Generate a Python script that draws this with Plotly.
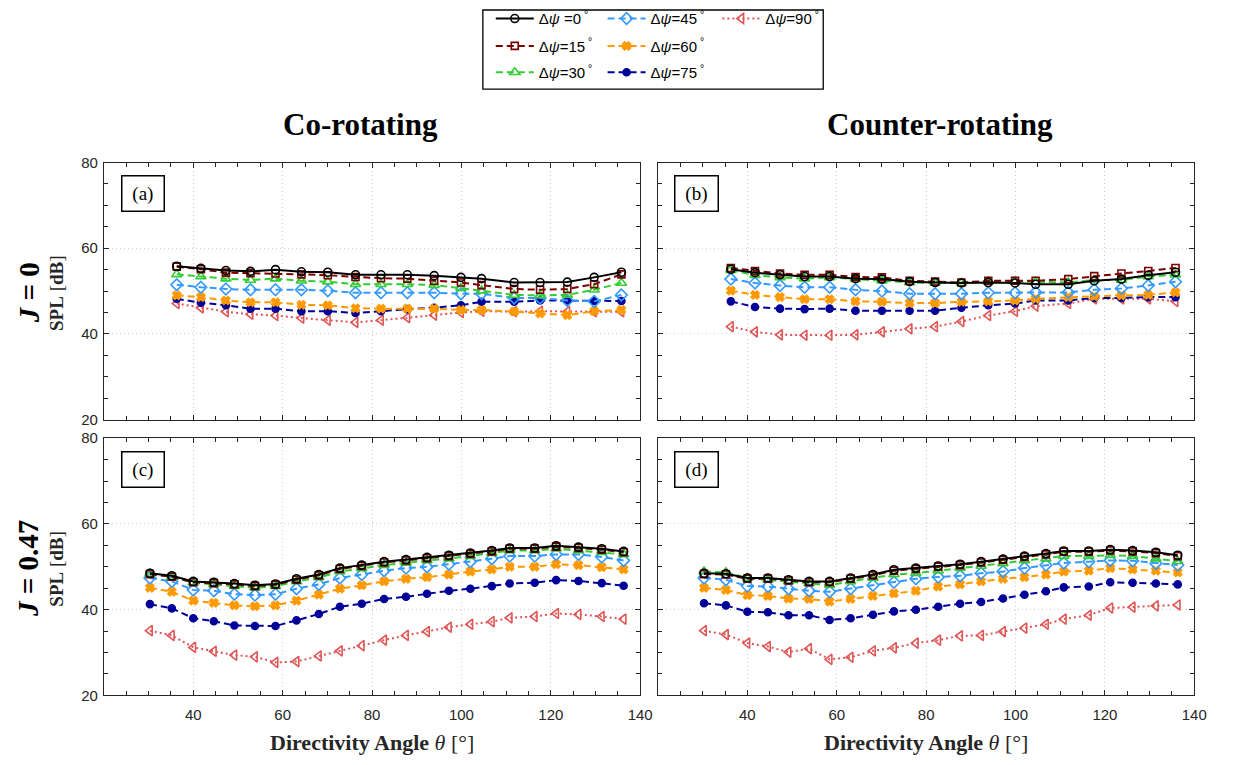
import plotly.graph_objects as go

# ---------------- data ----------------
theta_top = [36.3, 41.7, 47.3, 52.8, 58.4, 64.2, 70.1, 76.3, 82.0, 87.9, 93.9, 99.9,
             104.5, 111.8, 117.6, 123.7, 129.7, 135.8]
theta_bot = [30.3, 35.2, 40.0, 44.6, 49.2, 53.8, 58.4, 63.1, 68.1, 72.8, 77.7, 82.7,
             87.6, 92.3, 97.2, 102.0, 106.8, 110.8, 116.4, 121.2, 126.2, 131.4, 136.3]

series_names = ["0", "15", "30", "45", "60", "75", "90"]

# (a) J = 0, co-rotating
a_0 = [55.8, 55.3, 54.8, 54.6, 55.0, 54.5, 54.4, 53.8, 53.8, 53.8, 53.6, 53.2, 52.9, 52.0, 52.0, 52.1, 53.2, 54.4]
a_15 = [55.7, 55.1, 54.3, 54.2, 54.1, 53.9, 53.7, 53.3, 53.0, 52.9, 52.4, 52.0, 51.4, 50.5, 50.3, 50.5, 51.6, 53.9]
a_30 = [53.9, 53.4, 52.9, 52.6, 52.9, 52.4, 52.2, 51.6, 51.6, 51.6, 51.4, 50.7, 50.1, 49.1, 49.0, 49.1, 50.3, 51.9]
a_45 = [51.5, 50.9, 50.5, 50.3, 50.3, 50.3, 50.1, 49.6, 49.6, 49.6, 49.6, 49.4, 49.4, 48.4, 48.4, 47.8, 47.6, 49.1]
a_60 = [49.0, 48.6, 47.8, 47.4, 47.4, 46.8, 46.7, 46.0, 45.9, 45.9, 45.9, 45.6, 45.6, 45.2, 44.8, 44.4, 45.3, 45.6]
a_75 = [48.2, 47.3, 46.7, 45.9, 45.9, 45.3, 45.3, 44.9, 45.3, 45.8, 46.1, 46.7, 47.5, 47.5, 47.8, 47.8, 47.7, 47.7]
a_90 = [47.1, 46.1, 45.2, 44.6, 44.3, 43.7, 43.2, 42.7, 43.2, 43.8, 44.4, 45.0, 45.3, 45.2, 45.3, 45.2, 45.2, 45.2]

# (b) J = 0, counter-rotating
b_0 = [55.1, 54.3, 53.8, 53.4, 53.4, 52.9, 52.8, 52.2, 52.0, 51.9, 52.0, 51.9, 51.6, 51.6, 52.4, 52.8, 53.7, 54.4]
b_15 = [55.4, 54.7, 54.1, 53.8, 53.8, 53.3, 53.2, 52.4, 52.2, 52.0, 52.4, 52.4, 52.4, 52.8, 53.5, 54.1, 54.7, 55.4]
b_30 = [54.9, 53.7, 53.2, 52.9, 53.2, 52.8, 52.4, 52.0, 51.9, 51.9, 52.2, 52.2, 52.2, 52.0, 52.6, 52.6, 53.4, 53.8]
b_45 = [52.8, 51.9, 51.3, 50.9, 50.9, 50.3, 50.0, 49.4, 49.4, 49.4, 49.6, 49.6, 49.7, 49.7, 50.3, 50.6, 51.3, 52.2]
b_60 = [50.1, 49.1, 48.6, 48.1, 48.1, 47.6, 47.5, 47.2, 47.2, 47.5, 47.6, 47.8, 48.2, 48.6, 48.8, 49.0, 49.1, 49.7]
b_75 = [47.6, 46.3, 45.9, 45.8, 45.9, 45.4, 45.4, 45.4, 45.4, 46.1, 46.7, 47.1, 47.8, 47.8, 48.4, 48.4, 48.6, 48.6]
b_90 = [41.7, 40.5, 39.8, 39.7, 39.7, 39.8, 40.5, 41.2, 41.7, 42.9, 44.3, 45.3, 46.5, 47.1, 48.2, 48.2, 48.2, 47.6]

# (c) J = 0.47, co-rotating
c_0 = [48.5, 47.9, 46.6, 46.4, 46.1, 45.7, 46.0, 47.2, 48.2, 49.7, 50.4, 51.2, 51.7, 52.2, 52.7, 53.2, 53.8, 54.4, 54.4, 54.9, 54.6, 54.2, 53.6]
c_15 = [48.3, 47.7, 46.4, 46.2, 45.9, 45.5, 45.8, 47.0, 48.0, 49.5, 50.2, 51.0, 51.5, 52.0, 52.5, 53.0, 53.6, 54.2, 54.2, 54.7, 54.4, 54.0, 53.4]
c_30 = [48.4, 47.6, 46.3, 45.9, 45.5, 45.1, 45.5, 46.6, 47.5, 48.9, 49.6, 50.4, 50.9, 51.5, 51.9, 52.5, 53.2, 53.8, 53.8, 54.2, 53.8, 53.4, 52.9]
c_45 = [47.4, 46.6, 44.6, 44.4, 43.6, 43.4, 43.6, 44.9, 45.9, 47.4, 48.2, 49.1, 49.7, 50.0, 50.6, 51.2, 51.9, 52.5, 52.5, 52.9, 52.9, 52.3, 51.5]
c_60 = [45.1, 44.2, 42.1, 41.6, 41.0, 40.8, 41.0, 42.1, 43.5, 44.9, 45.7, 46.6, 47.2, 47.6, 48.2, 48.9, 49.4, 50.0, 50.0, 50.6, 50.4, 49.9, 49.4]
c_75 = [41.3, 40.3, 38.0, 37.3, 36.3, 36.2, 36.2, 37.5, 39.0, 40.7, 41.4, 42.5, 43.0, 43.7, 44.4, 44.9, 45.5, 46.1, 46.3, 46.9, 46.7, 46.2, 45.6]
c_90 = [35.1, 34.0, 31.2, 30.3, 29.4, 29.0, 27.7, 27.9, 29.2, 30.4, 31.6, 32.9, 34.0, 34.9, 35.9, 36.6, 37.2, 38.1, 38.4, 39.1, 38.9, 38.4, 37.8]

# (d) J = 0.47, counter-rotating
d_0 = [48.5, 48.4, 47.4, 47.4, 47.0, 46.6, 46.6, 47.4, 48.2, 49.3, 49.7, 50.2, 50.6, 51.2, 51.8, 52.5, 53.1, 53.7, 53.7, 54.0, 53.8, 53.4, 52.7]
d_15 = [48.3, 48.2, 47.2, 47.2, 46.8, 46.4, 46.4, 47.2, 48.0, 49.1, 49.5, 50.0, 50.4, 51.0, 51.6, 52.3, 52.9, 53.5, 53.5, 53.8, 53.6, 53.2, 52.5]
d_30 = [48.9, 48.7, 47.4, 47.0, 46.6, 46.1, 45.7, 46.6, 47.4, 48.2, 48.5, 49.1, 49.7, 50.2, 50.8, 51.5, 51.9, 52.5, 52.5, 52.7, 52.5, 51.9, 51.3]
d_45 = [47.4, 47.0, 45.5, 45.4, 44.9, 44.4, 44.2, 44.9, 45.7, 46.4, 47.2, 47.6, 47.9, 48.5, 48.9, 49.7, 50.4, 50.9, 51.2, 51.5, 51.4, 50.8, 50.4]
d_60 = [45.1, 44.6, 43.4, 43.2, 42.6, 42.5, 41.9, 42.5, 43.2, 43.8, 44.4, 45.4, 45.9, 46.6, 47.2, 47.6, 48.2, 48.9, 49.1, 49.7, 49.4, 49.1, 48.7]
d_75 = [41.5, 41.0, 39.5, 39.4, 38.7, 38.7, 37.6, 38.0, 38.8, 39.6, 40.0, 40.7, 41.4, 41.8, 42.6, 43.5, 44.3, 45.2, 45.4, 46.4, 46.3, 46.1, 45.9]
d_90 = [35.1, 34.2, 32.2, 31.4, 30.1, 30.9, 28.4, 28.9, 30.4, 31.1, 32.2, 32.9, 33.9, 34.0, 34.9, 35.7, 36.6, 37.8, 38.7, 40.4, 40.6, 40.9, 41.1]

x_ticks = [40, 60, 80, 100, 120, 140]
y_ticks = [20, 40, 60, 80]
panel_labels = ["(a)", "(b)", "(c)", "(d)"]
col_titles = ["Co-rotating", "Counter-rotating"]
row_titles = ["<b><i>J</i> = 0</b>", "<b><i>J</i> = 0.47</b>"]

# ---------------- styles ----------------
styles = {
    "0":  dict(color="#000000", dash="solid",   symbol="circle-open",        size=8),
    "15": dict(color="#7a0000", dash="7px,4px", symbol="square-open",        size=7),
    "30": dict(color="#33cc33", dash="7px,4px", symbol="triangle-up-open",   size=9),
    "45": dict(color="#3399ff", dash="7px,4px", symbol="diamond-open",       size=9),
    "60": dict(color="#ff9900", dash="7px,4px", symbol="x",                  size=7),
    "75": dict(color="#000099", dash="7px,4px", symbol="circle",             size=7),
    "90": dict(color="#e05555", dash="2px,3px", symbol="triangle-left-open", size=9),
}

panels = [
    ("x", "y", theta_top, [a_0, a_15, a_30, a_45, a_60, a_75, a_90]),
    ("x2", "y2", theta_top, [b_0, b_15, b_30, b_45, b_60, b_75, b_90]),
    ("x3", "y3", theta_bot, [c_0, c_15, c_30, c_45, c_60, c_75, c_90]),
    ("x4", "y4", theta_bot, [d_0, d_15, d_30, d_45, d_60, d_75, d_90]),
]

legend_ids = {"0": "legend", "45": "legend2", "90": "legend3",
              "15": "legend4", "60": "legend5", "30": "legend6", "75": "legend7"}

fig = go.Figure()
for pi, (xa, ya, th, vals) in enumerate(panels):
    for k in reversed(range(len(series_names))):
        nm = series_names[k]
        st = styles[nm]
        label = ("\u0394<i>\u03c8</i> =0<sup> \u00b0</sup>" if nm == "0"
                 else "\u0394<i>\u03c8</i>=" + nm + "<sup> \u00b0</sup>")
        fig.add_trace(go.Scatter(
            x=th, y=vals[k], xaxis=xa, yaxis=ya, mode="lines+markers",
            name=label, showlegend=(pi == 0), legend=legend_ids[nm],
            line=dict(color=st["color"], width=2, dash=st["dash"]),
            marker=dict(symbol=st["symbol"], size=st["size"], color=st["color"],
                        line=dict(color=st["color"], width=1.6)),
        ))

W, H = 1234, 765
def px_x(p):
    return p / W
def px_y(p):
    return 1 - p / H

# panel pixel boxes
xdom = [(105, 647), (665, 1207)]
ydom = [(157, 420), (439, 702)]

axis_common = dict(
    showline=True, linecolor="#262626", linewidth=1, mirror="ticks",
    ticks="inside", ticklen=5, tickcolor="#262626",
    showgrid=True, gridcolor="#d0d0d0", gridwidth=1, griddash="1px,3px",
    zeroline=False,
    tickfont=dict(family="Liberation Sans, Arial", size=15, color="#262626"),
)

layout = dict(width=W, height=H, margin=dict(l=0, r=0, t=0, b=0),
              paper_bgcolor="white", plot_bgcolor="white")
for i in range(4):
    r, c = divmod(i, 2)
    sx = "" if i == 0 else str(i + 1)
    xd = xdom[c]
    yd = ydom[r]
    layout["xaxis" + sx] = dict(
        axis_common, domain=[px_x(xd[0]), px_x(xd[1])], range=[20, 140],
        tickvals=x_ticks, showticklabels=(r == 1), anchor="y" + sx,
        ticklabelstandoff=6,
        minor=dict(ticks="inside", dtick=5, tick0=20, ticklen=4, tickcolor="#262626", showgrid=False),
    )
    layout["yaxis" + sx] = dict(
        axis_common, domain=[px_y(yd[1]), px_y(yd[0])], range=[20, 80],
        tickvals=y_ticks, showticklabels=(c == 0), anchor="x" + sx,
        ticklabelstandoff=2,
        minor=dict(ticks="inside", dtick=5, tick0=20, ticklen=4, tickcolor="#262626", showgrid=False),
    )

# legends: one per entry, arranged in 3 columns
leg_pos = {
    "legend": (496, 10), "legend4": (496, 38), "legend6": (496, 65),
    "legend2": (609, 10), "legend5": (609, 38), "legend7": (609, 65),
    "legend3": (725, 10),
}
for lid, (lx, ly) in leg_pos.items():
    layout[lid] = dict(x=px_x(lx), y=px_y(ly), xanchor="left", yanchor="middle",
                       bgcolor="rgba(0,0,0,0)", borderwidth=0, itemwidth=38,
                       font=dict(family="Liberation Sans, Arial", size=15, color="#000000"),
                       tracegroupgap=0)
fig.update_layout(**layout)

fig.add_shape(type="rect", xref="paper", yref="paper",
              x0=px_x(488), x1=px_x(832), y0=px_y(82), y1=px_y(1),
              line=dict(color="#000000", width=1.3), fillcolor="rgba(0,0,0,0)")

serif = "Liberation Serif, Times New Roman, serif"
ann = []
# panel labels
for i, lab in enumerate(panel_labels):
    r, c = divmod(i, 2)
    sx = "" if i == 0 else str(i + 1)
    ann.append(dict(text="\u2009" + lab + "\u2009", xref="x" + sx + " domain", yref="y" + sx + " domain",
                    x=0.072, y=0.88, xanchor="center", yanchor="middle", showarrow=False,
                    font=dict(family=serif, size=19, color="#000000"),
                    bordercolor="#000000", borderwidth=1.5, borderpad=6, bgcolor="white"))
# column titles
for cx, t in zip([364, 950], col_titles):
    ann.append(dict(text="<b>" + t + "</b>", xref="paper", yref="paper",
                    x=px_x(cx), y=px_y(118), xanchor="center", yanchor="middle",
                    showarrow=False, font=dict(family=serif, size=31, color="#000000")))
# row titles and y-axis titles
for ry, t in zip([290, 572], row_titles):
    ann.append(dict(text=t, xref="paper", yref="paper", x=px_x(29), y=px_y(ry),
                    xanchor="center", yanchor="middle", textangle=-90, showarrow=False,
                    font=dict(family=serif, size=29, color="#000000")))
    ann.append(dict(text="<b>SPL</b> [<b>dB</b>]", xref="paper", yref="paper", x=px_x(57), y=px_y(ry),
                    xanchor="center", yanchor="middle", textangle=-90, showarrow=False,
                    font=dict(family=serif, size=19, color="#262626")))
# x-axis titles
for cx in [376, 936]:
    ann.append(dict(text="<b>Directivity Angle</b> <i>\u03b8</i> [\u00b0]", xref="paper", yref="paper",
                    x=px_x(cx), y=px_y(750), xanchor="center", yanchor="middle",
                    showarrow=False, font=dict(family=serif, size=22, color="#262626")))
fig.update_layout(annotations=ann)

fig.write_html("out.html")
